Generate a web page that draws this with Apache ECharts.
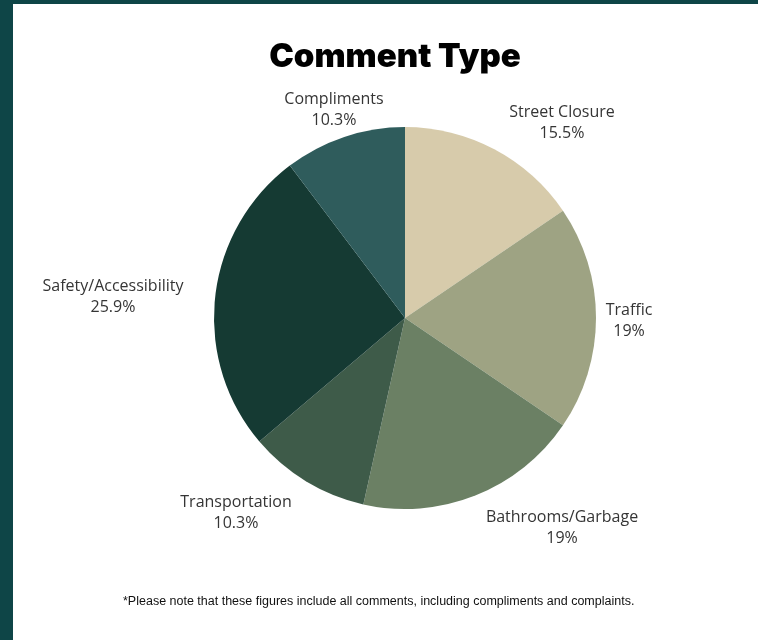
<!DOCTYPE html>
<html>
<head>
<meta charset="utf-8">
<script src="https://cdn.jsdelivr.net/npm/echarts@6/dist/echarts.min.js"></script>
<style>
  html, body { margin: 0; padding: 0; background: #ffffff; }
  #frame { position: absolute; left: 0; top: 0; width: 758px; height: 640px; background: #0e4547; }
  #chart { position: absolute; left: 13px; top: 4px; width: 745px; height: 636px; background: #ffffff; }
</style>
</head>
<body>
<div id="frame"></div>
<div id="chart"></div>
<script>
// Share of comments by type (percent), clockwise from 12 o'clock
const categories = ['Street Closure', 'Traffic', 'Bathrooms/Garbage', 'Transportation', 'Safety/Accessibility', 'Compliments'];
const shares = [15.5, 19, 19, 10.3, 25.9, 10.3];
const shareLabels = ['15.5%', '19%', '19%', '10.3%', '25.9%', '10.3%'];

const sliceColors = ['#d7cbab', '#9ea383', '#6b8064', '#3e5b49', '#153a33', '#2f5c5c'];
// label block centre, as offsets from the pie centre (px)
const labelOffsets = [[157, -195], [224, 3], [157, 210], [-169, 195], [-292, -21], [-71, -208]];

const center = [392, 314];   // within the chart container
const chart = echarts.init(document.getElementById('chart'), null, { renderer: 'canvas' });

chart.setOption({
  animation: false,
  backgroundColor: '#ffffff',
  title: {
    text: 'Comment Type',
    left: 377, top: 32,
    textAlign: 'center',
    textStyle: { fontFamily: 'Inter', fontWeight: 900, fontSize: 33, color: '#000000' }
  },
  graphic: [{
    type: 'text',
    left: 110,
    top: 591,
    style: {
      text: '*Please note that these figures include all comments, including compliments and complaints.',
      fontFamily: '"Liberation Sans Narrow", "Liberation Sans", Arial, sans-serif',
      fontSize: 12.5,
      fill: '#111111'
    }
  }],
  series: [{
    type: 'pie',
    center: center,
    radius: [0, 191],
    startAngle: 90,
    clockwise: true,
    silent: true,
    itemStyle: { borderWidth: 0 },
    labelLine: { show: false },
    label: {
      show: true,
      position: 'outside',
      formatter: p => p.name + '\n' + shareLabels[p.dataIndex],
      fontFamily: '"Open Sans", "Noto Sans", sans-serif',
      fontSize: 16,
      lineHeight: 21,
      color: '#353535',
      align: 'center'
    },
    labelLayout: p => ({
      x: center[0] + labelOffsets[p.dataIndex][0],
      y: center[1] + labelOffsets[p.dataIndex][1],
      align: 'center',
      verticalAlign: 'middle'
    }),
    data: categories.map((name, i) => ({
      name: name,
      value: shares[i],
      itemStyle: { color: sliceColors[i] }
    }))
  }]
});
</script>
</body>
</html>
